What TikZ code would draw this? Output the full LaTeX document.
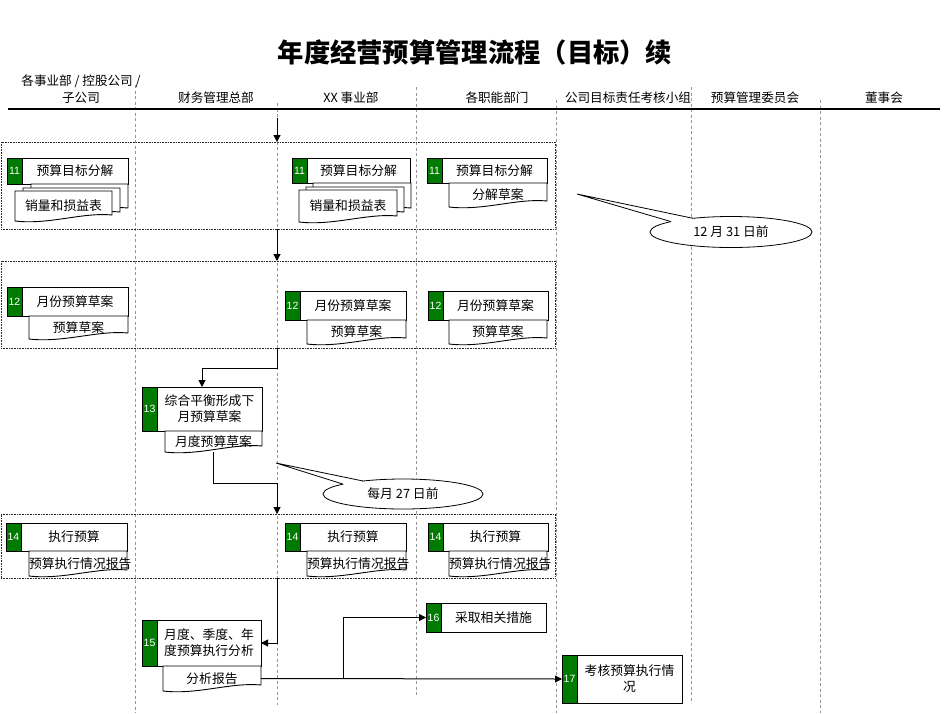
\documentclass[tikz,border=0pt]{standalone}
\usepackage{fontspec}
\setmainfont{Noto Sans CJK SC}
\newfontfamily\numfont{Liberation Sans}
\usetikzlibrary{arrows.meta,calc,shapes.geometric}
\definecolor{stepgreen}{RGB}{0,122,0}
\definecolor{lanegray}{RGB}{150,150,150}
\tikzset{
  every node/.style={inner sep=0pt, outer sep=0pt},
  lane/.style={draw=lanegray, line width=0.6pt, dash pattern=on 3pt off 2.5pt},
  groupbox/.style={draw=black!85, line width=0.7pt, dash pattern=on 0.8pt off 0.8pt},
  boxframe/.style={draw=black, fill=white, line width=1pt},
  numcell/.style={draw=black, fill=stepgreen, line width=1pt, text=white, font=\numfont\fontsize{10.5}{11}\selectfont},
  boxtext/.style={font=\fontsize{12.8}{16}\selectfont, align=center},
  docframe/.style={draw=black, fill=white, line width=0.9pt},
  conn/.style={draw=black, line width=1pt, -{Triangle[length=7pt,width=7pt]}},
  callout/.style={draw=black, fill=white, line width=0.8pt, ellipse, font=\fontsize{12.8}{14}\selectfont},
  head/.style={font=\fontsize{12.6}{17}\selectfont, align=center},
}
\newcommand{\stepbox}[7]{%
  \pgfmathsetmacro{\sbw}{#5-#3}\pgfmathsetmacro{\sbh}{#6-#4}%
  \node[boxframe, minimum width=\sbw pt, minimum height=\sbh pt, anchor=north west] (#1) at (#3,#4) {};
  \node[numcell, minimum width=15pt, minimum height=\sbh pt, anchor=north west] (#1n) at (#3,#4) {#2};
  \node[boxtext] (#1t) at ($(#1n.east)!0.5!(#1.east)$) {#7};
}
\newcommand{\docshape}[6]{%
  \pgfmathsetmacro{\docw}{#4-#2}\pgfmathsetmacro{\doch}{#5-#3}%
  \draw[docframe] (#2,#3) -- (#4,#3) -- (#4,#5-6) .. controls (#4-0.3*\docw,#5-9) and (#2+0.35*\docw,#5+4) .. (#2,#5) -- cycle;
  \node[boxtext, minimum width=\docw pt, minimum height=\doch pt, anchor=north west] (#1) at (#2,#3) {#6};
}
\begin{document}
\begin{tikzpicture}[x=1pt,y=-1pt]
\useasboundingbox (0,0) rectangle (950,713);
% title
\node[font=\bfseries\fontsize{26.3}{30}\selectfont] (title) at (475,52) {年度经营预算管理流程（目标）续};
% lanes
\draw[lane] (135,85) -- (135,713);
\draw[lane] (277,103) -- (277,705);
\draw[lane] (416,87) -- (416,697);
\draw[lane] (556,100) -- (556,713);
\draw[lane] (691,87) -- (691,703);
\draw[lane] (820,100) -- (820,713);
\draw[line width=1.2pt] (8,109) -- (940,109);
% headers
\node[head] (h1) at (81,89) {各事业部 / 控股公司 /\\子公司};
\node[head] (h2) at (216,98) {财务管理总部};
\node[head] (h3) at (351,98) {XX 事业部};
\node[head] (h4) at (497,98) {各职能部门};
\node[head] (h5) at (628,98) {公司目标责任考核小组};
\node[head] (h6) at (755,98) {预算管理委员会};
\node[head] (h7) at (884,98) {董事会};
% groups
\node[groupbox, minimum width=554pt, minimum height=87pt, anchor=north west] (g1) at (1,142) {};
\node[groupbox, minimum width=554pt, minimum height=87pt, anchor=north west] (g2) at (1,261) {};
\node[groupbox, minimum width=554pt, minimum height=64pt, anchor=north west] (g3) at (1,514) {};
% step 11
\stepbox{s11a}{11}{7}{158}{128}{184}{预算目标分解}
\docshape{d11a3}{31}{184}{128}{214}{}
\docshape{d11a2}{23}{188}{120}{218}{}
\docshape{d11a}{15}{191}{112}{221}{销量和损益表}
\stepbox{s11b}{11}{292}{158}{410}{183}{预算目标分解}
\docshape{d11b3}{313}{183}{411}{214}{}
\docshape{d11b2}{306}{187}{404}{218}{}
\docshape{d11b}{299}{190}{397}{222}{销量和损益表}
\stepbox{s11c}{11}{427}{158}{547}{183}{预算目标分解}
\docshape{d11c}{449}{183}{547}{207}{分解草案}
% step 12
\stepbox{s12a}{12}{7}{287}{128}{316}{月份预算草案}
\docshape{d12a}{29}{316}{128}{339}{预算草案}
\stepbox{s12b}{12}{285}{291}{406}{320}{月份预算草案}
\docshape{d12b}{307}{320}{406}{344}{预算草案}
\stepbox{s12c}{12}{428}{291}{548}{320}{月份预算草案}
\docshape{d12c}{449}{320}{547}{344}{预算草案}
% step 13
\stepbox{s13}{13}{142}{387}{262}{431}{综合平衡形成下\\月预算草案}
\docshape{d13}{165}{431}{262}{452}{月度预算草案}
% step 14
\stepbox{s14a}{14}{6}{523}{127}{551}{执行预算}
\docshape{d14a}{29}{551}{127}{576}{预算执行情况报告}
\stepbox{s14b}{14}{285}{523}{406}{551}{执行预算}
\docshape{d14b}{307}{551}{406}{576}{预算执行情况报告}
\stepbox{s14c}{14}{428}{523}{548}{551}{执行预算}
\docshape{d14c}{449}{551}{547}{576}{预算执行情况报告}
% steps 15-17
\stepbox{s15}{15}{142}{620}{261}{666}{月度、季度、年\\度预算执行分析}
\docshape{d15}{163}{666}{261}{691}{分析报告}
\stepbox{s16}{16}{426}{603}{546}{632}{采取相关措施}
\stepbox{s17}{17}{562}{655}{682}{703}{考核预算执行情\\况}
% callouts
\node[callout, minimum width=162pt, minimum height=31pt] (c1) at (731,232) {12 月 31 日前};
\fill[white] (577,194) -- (693,218.3) -- (682,227) -- (671,221.6) -- cycle;
\draw[line width=0.8pt] (693,218.3) -- (577,194) -- (671,221.6);
\node[callout, minimum width=160pt, minimum height=30pt] (c2) at (403,494) {每月 27 日前};
\fill[white] (276,463) -- (363,481) -- (352,490) -- (343,484.1) -- cycle;
\draw[line width=0.8pt] (363,481) -- (276,463) -- (343,484.1);
% connectors
\coordinate (t0) at (277,118);
\draw[conn] (t0) -- (t0 |- g1.north);
\draw[conn] (t0 |- g1.south) -- (t0 |- g2.north);
\draw[conn] (t0 |- g2.south) -- ++(0,20) -| (s13.north);
\draw[conn] (d13.south) -- ++(0,31) -| (t0 |- g3.north);
\draw[conn] (t0 |- g3.south) |- (s15.east);
\draw[conn] (d15.east) -- (s17.west);
\coordinate (br) at (343,0);
\draw[conn] (br |- d15.east) |- (s16.west);
\end{tikzpicture}
\end{document}
